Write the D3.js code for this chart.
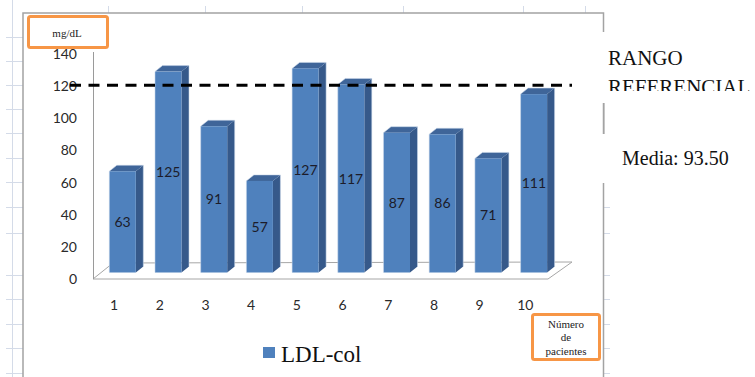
<!DOCTYPE html>
<html>
<head>
<meta charset="utf-8">
<script src="https://cdn.jsdelivr.net/npm/d3@7"></script>
<style>
  html, body { margin: 0; padding: 0; background: #ffffff; }
  svg { display: block; }
</style>
</head>
<body>
<div id="chart"></div>
<script>
// LDL cholesterol per patient (mg/dL)
const patients = ["1", "2", "3", "4", "5", "6", "7", "8", "9", "10"];
const ldlValues = [63, 125, 91, 57, 127, 117, 87, 86, 71, 111];
const yTicks = [0, 20, 40, 60, 80, 100, 120, 140];
const referenceValue = 120;
const seriesName = "LDL-col";
const meanLabel = "Media: 93.50";
const referenceLabel = ["RANGO", "REFERENCIAL"];
const unitLabel = "mg/dL";
const xAxisTitle = ["Número", "de", "pacientes"];

const W = 755, H = 377;
const svg = d3.select("#chart").append("svg").attr("width", W).attr("height", H);

// worksheet grid behind the chart object
const gridColor = "#d4dbe8";
const gridRows = [37, 61, 85, 109, 133, 158, 182, 207, 233, 275, 299, 324, 348, 373];
const gridCols = [108, 205, 302, 403, 523, 585];
const grid = svg.append("g");
grid.append("line").attr("x1", 12.5).attr("x2", 12.5).attr("y1", 0).attr("y2", H)
  .attr("stroke", gridColor).attr("stroke-width", 1);
grid.selectAll("line.row").data(gridRows).enter().append("line").attr("class", "row")
  .attr("x1", 6).attr("x2", 23).attr("y1", d => d + 0.5).attr("y2", d => d + 0.5)
  .attr("stroke", gridColor);
grid.selectAll("line.rowR").data(gridRows.filter(d => d > 180)).enter().append("line").attr("class", "rowR")
  .attr("x1", 604).attr("x2", 610).attr("y1", d => d + 0.5).attr("y2", d => d + 0.5)
  .attr("stroke", gridColor);
grid.selectAll("line.col").data(gridCols).enter().append("line").attr("class", "col")
  .attr("x1", d => d + 0.5).attr("x2", d => d + 0.5).attr("y1", 6).attr("y2", 13)
  .attr("stroke", gridColor);

// chart object frame
svg.append("rect").attr("x", 23).attr("y", 13).attr("width", 580.5).attr("height", H)
  .attr("fill", "#ffffff").attr("stroke", "#a3a3a3").attr("stroke-width", 1.5);

// scales: front plane of the 3-D plot
const y = d3.scaleLinear().domain([0, 140]).range([279, 54]);
const x = d3.scaleBand().domain(patients).range([91.2, 548.2])
  .paddingInner(0.42).paddingOuter(0.21);

// bars stand half-way into the floor depth
const depthX = 8.5, depthY = -6.5;   // offset of the bar front from the front plane
const sideX = 7.5, sideY = 6;        // visible depth of each column

const plot = svg.append("g");

// floor and left wall edge
const floorFront = y(0);
plot.append("path")
  .attr("d", `M93,${floorFront} L548,${floorFront} L572,${floorFront - 17} L113,${floorFront - 16} Z`)
  .attr("fill", "#ffffff").attr("stroke", "#a6a6a6").attr("stroke-width", 1);
plot.append("line").attr("x1", 93.5).attr("x2", 93.5).attr("y1", 52).attr("y2", floorFront)
  .attr("stroke", "#9a9a9a").attr("stroke-width", 1);

// y axis labels
plot.selectAll("text.ytick").data(yTicks).enter().append("text").attr("class", "ytick")
  .attr("x", 77).attr("y", d => y(d)).attr("dy", "0.36em")
  .attr("text-anchor", "end")
  .attr("font-family", "Lato, 'Open Sans', sans-serif").attr("font-size", 14)
  .attr("fill", "#2a2a2a").text(d => d);

// category labels
plot.selectAll("text.xtick").data(patients).enter().append("text").attr("class", "xtick")
  .attr("x", d => x(d) + x.bandwidth() / 2).attr("y", 305).attr("dy", "0.36em")
  .attr("text-anchor", "middle")
  .attr("font-family", "Lato, 'Open Sans', sans-serif").attr("font-size", 14)
  .attr("fill", "#2a2a2a").text(d => d);

// 3-D columns
const data = patients.map((p, i) => ({ p, v: ldlValues[i] }));
const bars = plot.selectAll("g.bar").data(data).enter().append("g").attr("class", "bar");
const bw = x.bandwidth();
const fx = d => x(d.p) + depthX;
const barTop = d => y(d.v) + depthY;
const barBase = y(0) + depthY;

bars.append("path") // side face
  .attr("d", d => `M${fx(d) + bw},${barTop(d)} L${fx(d) + bw + sideX},${barTop(d) - sideY} L${fx(d) + bw + sideX},${barBase - sideY} L${fx(d) + bw},${barBase} Z`)
  .attr("fill", "#36598a");
bars.append("path") // top face
  .attr("d", d => `M${fx(d)},${barTop(d)} L${fx(d) + sideX},${barTop(d) - sideY} L${fx(d) + bw + sideX},${barTop(d) - sideY} L${fx(d) + bw},${barTop(d)} Z`)
  .attr("fill", "#3f6599");
bars.append("rect") // front face
  .attr("x", d => fx(d)).attr("y", d => barTop(d))
  .attr("width", bw).attr("height", d => barBase - barTop(d))
  .attr("fill", "#4f81bd");
bars.append("path") // soft light rim
  .attr("d", d => `M${fx(d)},${barBase} L${fx(d)},${barTop(d)} L${fx(d) + sideX},${barTop(d) - sideY} L${fx(d) + bw + sideX},${barTop(d) - sideY} L${fx(d) + bw + sideX},${barBase - sideY}`)
  .attr("fill", "none").attr("stroke", "#c9d7ea").attr("stroke-width", 0.8).attr("opacity", 0.7);

// value labels in the middle of each column
bars.append("text")
  .attr("x", d => fx(d) + bw / 2).attr("y", d => (barTop(d) + barBase) / 2).attr("dy", "0.36em")
  .attr("text-anchor", "middle")
  .attr("font-family", "Lato, 'Open Sans', sans-serif").attr("font-size", 14)
  .attr("fill", "#1c1c2a").text(d => d.v);

// reference level
plot.append("line")
  .attr("x1", 70).attr("x2", 572).attr("y1", y(referenceValue) - 1).attr("y2", y(referenceValue) - 1)
  .attr("stroke", "#000000").attr("stroke-width", 3).attr("stroke-dasharray", "11,7.5");

// unit box
svg.append("rect").attr("x", 28.5).attr("y", 16.5).attr("width", 79).attr("height", 31).attr("rx", 2)
  .attr("fill", "#ffffff").attr("stroke", "#f79646").attr("stroke-width", 3);
svg.append("text").attr("x", 67).attr("y", 33).attr("dy", "0.35em").attr("text-anchor", "middle")
  .attr("font-family", "'Liberation Serif', 'Times New Roman', serif").attr("font-size", 11)
  .attr("fill", "#222").text(unitLabel);

// x axis title box
svg.append("rect").attr("x", 532.5).attr("y", 314.5).attr("width", 67).attr("height", 45).attr("rx", 2)
  .attr("fill", "#ffffff").attr("stroke", "#f79646").attr("stroke-width", 3);
svg.selectAll("text.xtitle").data(xAxisTitle).enter().append("text").attr("class", "xtitle")
  .attr("x", 566).attr("y", (d, i) => 324 + i * 13.5).attr("dy", "0.35em").attr("text-anchor", "middle")
  .attr("font-family", "'Liberation Serif', 'Times New Roman', serif").attr("font-size", 11)
  .attr("fill", "#222").text(d => d);

// legend
svg.append("rect").attr("x", 263).attr("y", 347).attr("width", 12).attr("height", 11).attr("fill", "#4f81bd");
svg.append("text").attr("x", 281).attr("y", 362)
  .attr("font-family", "'Liberation Serif', 'Times New Roman', serif").attr("font-size", 23)
  .attr("fill", "#111").text(seriesName);

// side notes (white text boxes over the frame)
svg.append("defs").append("clipPath").attr("id", "noteClip")
  .append("rect").attr("x", 598).attr("y", 32).attr("width", 160).attr("height", 59);
svg.append("rect").attr("x", 598).attr("y", 32).attr("width", 160).attr("height", 71).attr("fill", "#ffffff");
svg.append("rect").attr("x", 598).attr("y", 134).attr("width", 160).attr("height", 49).attr("fill", "#ffffff");
svg.append("line").attr("x1", 603.75).attr("x2", 603.75).attr("y1", 103).attr("y2", 134)
  .attr("stroke", "#a3a3a3").attr("stroke-width", 1.5);
const notes = svg.append("g").attr("clip-path", "url(#noteClip)");
notes.selectAll("text").data(referenceLabel).enter().append("text")
  .attr("x", 608).attr("y", (d, i) => 65 + i * 29)
  .attr("font-family", "'Liberation Serif', 'Times New Roman', serif").attr("font-size", 21)
  .attr("fill", "#111").text(d => d);
svg.append("text").attr("x", 622).attr("y", 165)
  .attr("font-family", "'Liberation Serif', 'Times New Roman', serif").attr("font-size", 20)
  .attr("fill", "#111").text(meanLabel);
</script>
</body>
</html>
